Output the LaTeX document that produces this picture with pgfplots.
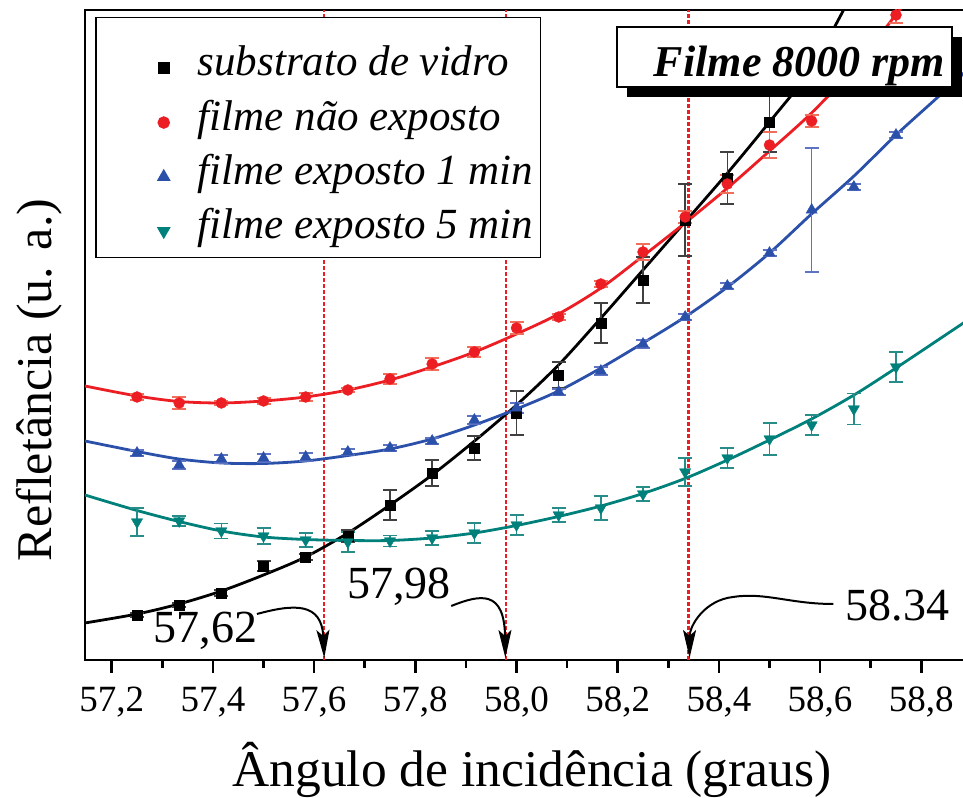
\documentclass[border=0pt]{standalone}
\usepackage{fontspec}
\setmainfont{Liberation Serif}
\usepackage{pgfplots}
\usepackage{pgfplotstable}
\pgfplotsset{compat=1.18}
\usetikzlibrary{arrows.meta,shadows}

\definecolor{cred}{RGB}{236,30,36}
\definecolor{credbar}{RGB}{240,110,90}
\definecolor{cblue}{RGB}{42,80,170}
\definecolor{cbluebar}{RGB}{95,115,195}
\definecolor{cteal}{RGB}{0,128,122}
\definecolor{ctealbar}{RGB}{40,140,136}

\newcommand\fs[2]{\fontsize{#1}{#2}\selectfont}

% measured points: angle, reflectance (arb. units), uncertainty
\pgfplotstableread{
x y e
57.25 45 2
57.3333 55 2
57.4167 67 3
57.5 94 5
57.5833 103 3
57.6667 124 6
57.75 155 15
57.8333 187 13
57.9167 212 12
58.0 247 22
58.0833 285 13
58.1667 337 20
58.25 380 23
58.3333 440 36
58.4167 482 26
58.5 538 30
}\vidro

\pgfplotstableread{
x y e
57.25 263 3
57.3333 257 6
57.4167 257 2
57.5 259 3
57.5833 263 4
57.6667 270 2
57.75 281 5
57.8333 296 6
57.9167 308 5
58.0 332 6
58.0833 343 3
58.1667 376 3
58.25 408 8
58.3333 443 6
58.4167 476 9
58.5 515 13
58.5833 539 6
58.6667 588 6
58.75 645 8
}\naoexp

\pgfplotstableread{
x y e
57.25 207 3
57.3333 195 4
57.4167 201 4
57.5 202 4
57.5833 203 4
57.6667 208 3
57.75 212 3
57.8333 219 3
57.9167 240 4
58.0 252 5
58.0833 268 3
58.1667 289 4
58.25 316 4
58.3333 343 3
58.4167 374 3
58.5 407 3
58.5833 450 62
58.6667 473 3
58.75 525 3
}\expum

\pgfplotstableread{
x y e
57.25 138 14
57.3333 139 5
57.4167 129 7.5
57.5 124 8
57.5833 120 7
57.6667 118 10
57.75 119 5.5
57.8333 122 7
57.9167 127 10
58.0 135 10
58.0833 145 7
58.1667 152 12
58.25 166 7
58.3333 188 14
58.4167 202 10
58.5 221 16
58.5833 235 10
58.6667 251 15.5
58.75 293 15
}\expcinco

% fitted curves
\pgfplotstableread{
x y
57.147 37
57.25 46
57.333 56
57.417 69
57.5 85
57.583 103
57.667 127
57.75 155
57.833 185
57.917 219
58.0 255
58.083 295
58.167 342
58.25 390
58.333 438
58.417 487
58.5 538
58.583 592
58.667 670
}\fitvidro

\pgfplotstableread{
x y
57.147 274
57.25 264
57.333 258.5
57.417 257
57.5 259
57.583 263
57.667 270
57.75 280
57.833 293
57.917 308
58.0 326
58.083 346
58.167 372
58.25 404
58.333 437
58.417 472
58.5 509
58.583 547
58.667 592
58.76 652
58.78 665
}\fitnaoexp

\pgfplotstableread{
x y
57.147 219
57.25 208.5
57.333 201
57.417 197
57.5 196.5
57.583 199
57.667 204.5
57.75 211
57.833 221
57.917 235
58.0 251
58.083 269
58.167 292
58.25 317
58.333 343
58.417 373
58.5 407
58.583 446
58.667 484
58.75 525
58.833 563
58.895 592
}\fitexpum

\pgfplotstableread{
x y
57.147 165
57.25 149.5
57.333 138.5
57.417 129
57.5 123
57.583 120.5
57.667 119.5
57.75 119.5
57.833 122
57.917 127
58.0 134.5
58.083 143.5
58.167 154
58.25 166.5
58.333 181.5
58.417 200
58.5 220
58.583 241
58.667 265
58.75 292
58.895 341
}\fitexpcinco

\begin{document}
\begin{tikzpicture}
\begin{axis}[
  name=ax,
  scale only axis,
  width=883bp, height=650bp,
  xmin=57.1472, xmax=58.8923,
  ymin=0, ymax=650,
  axis line style={line width=2.5bp},
  ytick=\empty,
  xtick={57.2,57.4,57.6,57.8,58.0,58.2,58.4,58.6,58.8},
  minor xtick={57.3,57.5,57.7,57.9,58.1,58.3,58.5,58.7,58.9},
  xtick pos=bottom,
  tick align=outside,
  major tick length=13bp,
  minor tick length=8bp,
  every tick/.style={black, line width=2.5bp},
  /pgf/number format/.cd, use comma, fixed, fixed zerofill, precision=1, assume math mode=true,
  /pgfplots/.cd,
  xticklabel style={font=\fs{37bp}{44bp}, anchor=base, yshift=-39bp, inner sep=0pt},
  xlabel={Ângulo de incidência (graus)},
  xlabel style={font=\fs{51.5bp}{60bp}, at={(rel axis cs:0.5062,0)}, anchor=base, yshift=-127bp, inner sep=0pt},
  ylabel={Refletância (u. a.)},
  ylabel style={font=\fs{50bp}{58bp}, at={(rel axis cs:-0.026,0.4308)}, rotate=0, anchor=south, inner sep=0pt},
  legend cell align=left,
  legend style={at={(rel axis cs:0.01133,0.98923)}, anchor=north west,
    draw=black, line width=1.5bp, fill=white,
    inner xsep=5bp, inner ysep=9bp, row sep=-4.7bp,
    font=\fs{43bp}{52bp}\itshape,
    nodes={inner xsep=2bp, inner ysep=0pt, text height=49bp, text depth=10bp}},
  legend image code/.code={\path[draw=none,fill=none] (0bp,0bp) -- (95bp,0bp); \draw[#1] plot coordinates {(63bp,-12bp)};},
]

% reference lines at the three crossing angles
\addplot[forget plot, cred, line width=2.2bp, dash pattern=on 3.5bp off 2.5bp] coordinates {(57.62,0) (57.62,650)};
\addplot[forget plot, cred, line width=2.2bp, dash pattern=on 3.5bp off 2.5bp] coordinates {(57.98,0) (57.98,650)};
\addplot[forget plot, cred, line width=2.2bp, dash pattern=on 3.5bp off 2.5bp] coordinates {(58.34,0) (58.34,650)};

% fitted curves
\addplot[forget plot, black, line width=2.8bp, smooth, no marks] table[x=x,y=y] {\fitvidro};
\addplot[forget plot, cred, line width=2.8bp, smooth, no marks] table[x=x,y=y] {\fitnaoexp};
\addplot[forget plot, cblue, line width=2.8bp, smooth, no marks] table[x=x,y=y] {\fitexpum};
\addplot[forget plot, cteal, line width=2.8bp, smooth, no marks] table[x=x,y=y] {\fitexpcinco};

% measured points with error bars
\addplot[black, only marks, mark=square*, mark size=5bp,
  error bars/.cd, y dir=both, y explicit,
  error bar style={line width=1.5bp, color=black!75},
  error mark options={rotate=90, mark size=7bp, line width=1.5bp, color=black!75}]
  table[x=x,y=y,y error=e] {\vidro};
\addlegendentry{substrato de vidro}

\addplot[cred, only marks, mark=*, mark size=5.5bp,
  error bars/.cd, y dir=both, y explicit,
  error bar style={line width=1.5bp, color=credbar},
  error mark options={rotate=90, mark size=7bp, line width=1.5bp, color=credbar}]
  table[x=x,y=y,y error=e] {\naoexp};
\addlegendentry{filme não exposto}

\addplot[cblue, only marks, mark=triangle*, mark size=6.5bp,
  error bars/.cd, y dir=both, y explicit,
  error bar style={line width=1.5bp, color=cbluebar},
  error mark options={rotate=90, mark size=7bp, line width=1.5bp, color=cbluebar}]
  table[x=x,y=y,y error=e] {\expum};
\addlegendentry{filme exposto 1 min}

\addplot[cteal, only marks, mark=triangle*, mark size=6.5bp, mark options={rotate=180},
  error bars/.cd, y dir=both, y explicit,
  error bar style={line width=1.5bp, color=ctealbar},
  error mark options={rotate=90, mark size=7bp, line width=1.5bp, color=ctealbar}]
  table[x=x,y=y,y error=e] {\expcinco};
\addlegendentry{filme exposto 5 min}

% anchor points for the sample label (drawn above the data)
\coordinate (fbox) at (axis cs:58.5296,603);
\coordinate (ftxt) at (axis cs:58.847,583);

% crossing-angle annotations
\node[anchor=center, inner sep=0pt, font=\fs{46bp}{54bp}] at (axis cs:57.385,29) {57,62};
\node[anchor=center, inner sep=0pt, font=\fs{46bp}{54bp}] at (axis cs:57.768,73) {57,98};
\node[anchor=center, inner sep=0pt, font=\fs{46bp}{54bp}] at (axis cs:58.753,54) {58.34};

\draw[line width=2bp, -{Stealth[length=28bp,width=13bp,inset=6bp]}]
  (axis cs:57.487,46) .. controls (axis cs:57.56,56) and (axis cs:57.615,58) .. (axis cs:57.62,2);
\draw[line width=2bp, -{Stealth[length=28bp,width=13bp,inset=6bp]}]
  (axis cs:57.871,54) .. controls (axis cs:57.93,66) and (axis cs:57.976,70) .. (axis cs:57.978,2);
\draw[line width=2bp, -{Stealth[length=28bp,width=13bp,inset=6bp]}]
  (axis cs:58.626,56) .. controls (axis cs:58.541,56) and (axis cs:58.491,68) .. (axis cs:58.428,63)
  .. controls (axis cs:58.373,60) and (axis cs:58.342,35) .. (axis cs:58.342,2);
\end{axis}

\node[draw=black, line width=1.3bp, fill=white, minimum width=335bp, minimum height=60bp,
  drop shadow={shadow xshift=10bp, shadow yshift=-10bp, fill=black, opacity=1}]
  at (fbox) {};
\node[anchor=base east, inner sep=0pt, font=\fs{44bp}{52bp}\bfseries\itshape]
  at (ftxt) {Filme 8000 rpm};

\pgfresetboundingbox
\path[use as bounding box] ([xshift=-85bp,yshift=-138bp]ax.south west) rectangle ([xshift=-5bp,yshift=10bp]ax.north east);
\end{tikzpicture}
\end{document}
